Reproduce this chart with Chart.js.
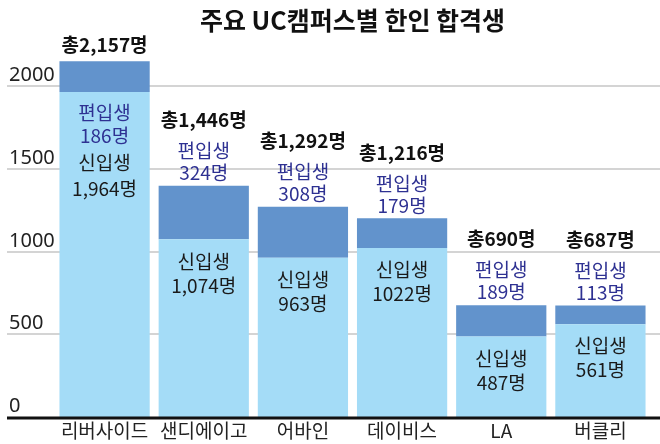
<!DOCTYPE html>
<html>
<head>
<meta charset="utf-8">
<script src="https://cdn.jsdelivr.net/npm/chart.js"></script>
<style>
  html, body { margin: 0; padding: 0; background: #fff; }
  #wrap { width: 660px; height: 444px; }
</style>
</head>
<body>
<div id="wrap"><canvas id="chart" width="660" height="444"></canvas></div>
<script>
// data
const campuses = ["리버사이드", "샌디에이고", "어바인", "데이비스", "LA", "버클리"];
const freshmen = [1964, 1074, 963, 1022, 487, 561];
const transfers = [186, 324, 308, 179, 189, 113];
const totalLabels = ["총2,157명", "총1,446명", "총1,292명", "총1,216명", "총690명", "총687명"];
const freshLabels = ["1,964명", "1,074명", "963명", "1022명", "487명", "561명"];
const transferLabels = ["186명", "324명", "308명", "179명", "189명", "113명"];
const yTicks = [0, 500, 1000, 1500, 2000];

const KR = '"Noto Sans CJK KR", "Noto Sans", sans-serif';

// gridlines, tick labels and the base line, drawn from the y scale
const gridPlugin = {
    id: "grid",
    beforeDatasetsDraw(chart) {
        const ctx = chart.ctx;
        const y = chart.scales.y;
        ctx.save();
        ctx.strokeStyle = "#d4d4d4";
        ctx.lineWidth = 2;
        ctx.fillStyle = "#222";
        ctx.font = '20px "Noto Sans", sans-serif';
        ctx.textAlign = "left";
        ctx.textBaseline = "bottom";
        yTicks.forEach(v => {
            const py = Math.round(y.getPixelForValue(v));
            if (v > 0) {
                ctx.beginPath();
                ctx.moveTo(7, py);
                ctx.lineTo(660, py);
                ctx.stroke();
            }
            ctx.fillText(String(v), 9, py - 1);
        });
        ctx.restore();
    },
    afterDatasetsDraw(chart) {
        const ctx = chart.ctx;
        const py = Math.round(chart.scales.y.getPixelForValue(0));
        ctx.save();
        ctx.strokeStyle = "#111";
        ctx.lineWidth = 3;
        ctx.beginPath();
        ctx.moveTo(7, py + 1);
        ctx.lineTo(660, py + 1);
        ctx.stroke();
        ctx.restore();
    }
};

// text labels placed relative to the bars
const labelPlugin = {
    id: "labels",
    afterDatasetsDraw(chart) {
        const ctx = chart.ctx;
        const lower = chart.getDatasetMeta(0).data;
        const upper = chart.getDatasetMeta(1).data;
        ctx.save();
        ctx.textAlign = "center";
        ctx.textBaseline = "middle";
        campuses.forEach((c, i) => {
            const x = lower[i].x;
            const lightTop = lower[i].y;
            const darkTop = upper[i].y;
            ctx.font = "19px " + KR;
            if (i === 0) {
                ctx.fillStyle = "#2e3192";
                ctx.fillText("편입생", x, lightTop + 21);
                ctx.fillText(transferLabels[i], x, lightTop + 44);
                ctx.fillStyle = "#1a1a1a";
                ctx.fillText("신입생", x, lightTop + 71);
                ctx.fillText(freshLabels[i], x, lightTop + 97);
                ctx.font = "bold 19px " + KR;
                ctx.fillStyle = "#111";
                ctx.fillText(totalLabels[i], x, darkTop - 16);
            } else {
                ctx.fillStyle = "#2e3192";
                ctx.fillText("편입생", x, darkTop - 35);
                ctx.fillText(transferLabels[i], x, darkTop - 13);
                ctx.fillStyle = "#1a1a1a";
                ctx.fillText("신입생", x, lightTop + 22);
                ctx.fillText(freshLabels[i], x, lightTop + 46);
                ctx.font = "bold 19px " + KR;
                ctx.fillStyle = "#111";
                ctx.fillText(totalLabels[i], x, darkTop - 66);
            }
        });
        ctx.restore();
    }
};

new Chart(document.getElementById("chart"), {
    type: "bar",
    data: {
        labels: campuses,
        datasets: [
            { label: "신입생", data: freshmen, backgroundColor: "#a4dcf7" },
            { label: "편입생", data: transfers, backgroundColor: "#6293cc" }
        ]
    },
    options: {
        responsive: false,
        animation: false,
        layout: { padding: { left: 55, right: 10, top: 0, bottom: 0 } },
        datasets: { bar: { categoryPercentage: 1, barPercentage: 0.91 } },
        plugins: {
            legend: { display: false },
            tooltip: { enabled: false },
            title: {
                display: true,
                text: "주요 UC캠퍼스별 한인 합격생",
                color: "#111",
                font: { family: KR, size: 25, weight: "bold" },
                padding: { top: 5, bottom: 18 }
            }
        },
        scales: {
            x: {
                stacked: true,
                grid: { display: false, drawTicks: false },
                border: { display: false },
                ticks: { color: "#222", font: { family: KR, size: 19, lineHeight: 1 }, padding: 4 }
            },
            y: {
                stacked: true,
                display: false,
                min: 0,
                max: 2200
            }
        }
    },
    plugins: [gridPlugin, labelPlugin]
});
</script>
</body>
</html>
